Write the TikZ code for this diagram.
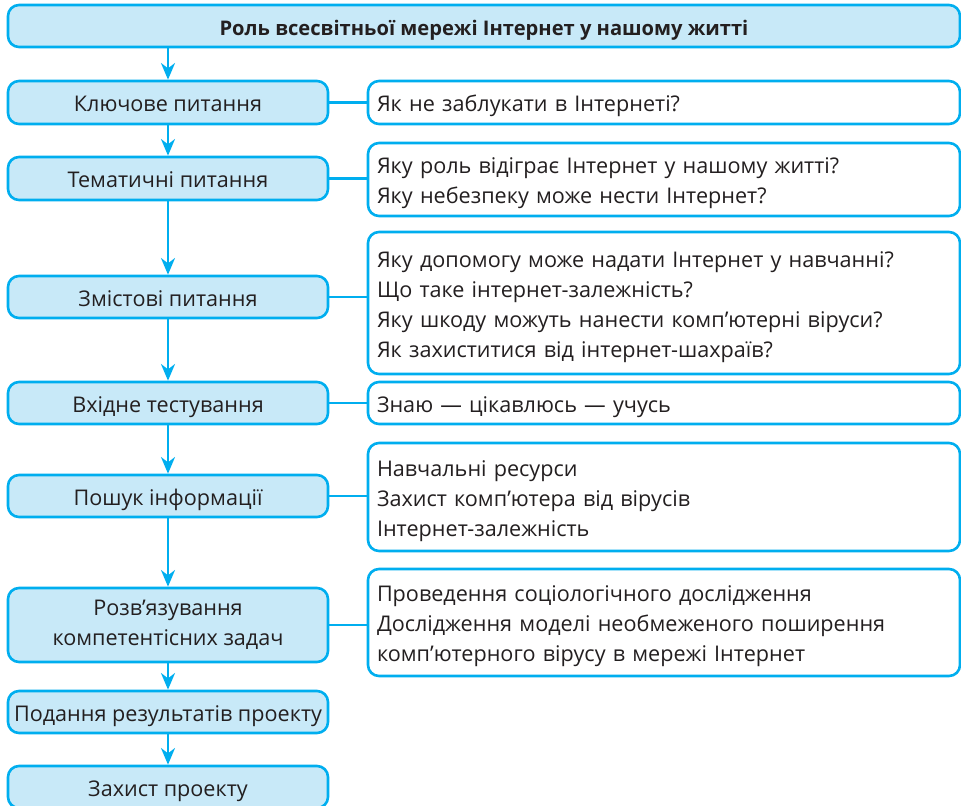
\documentclass[tikz,border=0pt]{standalone}
\usepackage{fontspec}
\setmainfont{Open Sans}
\usetikzlibrary{arrows.meta}
\newdimen\pxu \pxu=0.75pt
\definecolor{cyanline}{HTML}{00AEEF}
\definecolor{cyanfill}{HTML}{C8E9F8}
\definecolor{txt}{HTML}{231F20}
\tikzset{
  base/.style={draw=cyanline, line width=2.6\pxu, rounded corners=11\pxu, text=txt,
    font=\fontsize{16.2pt}{22.5pt}\selectfont, inner sep=0pt,
    execute at begin node={\rule{0pt}{18pt}},
    execute at end node={\rule[-3.8pt]{0pt}{0pt}}},
  lbox/.style={base, fill=cyanfill, minimum width=320\pxu, align=center},
  rbox/.style={base, fill=white, minimum width=592\pxu, text width=574\pxu, align=left},
  flow/.style={draw=cyanline, line width=2.6\pxu, -{Stealth[length=12.5pt, width=10.5pt, inset=4pt]}},
  link/.style={draw=cyanline, line width=2.6\pxu}
}
\begin{document}
\begin{tikzpicture}[x=\pxu, y=-\pxu]
\useasboundingbox (0,0) rectangle (961,806);
\node[base, fill=cyanfill, minimum width=952\pxu, minimum height=42\pxu, font=\fontsize{15.1pt}{22.5pt}\selectfont\bfseries] (title) at (484,26) {Роль всесвітньої мережі Інтернет у нашому житті};

\node[lbox, minimum height=43\pxu] (l1) at (168,102.5) {Ключове питання};
\node[lbox, minimum height=43\pxu] (l2) at (168,178.5) {Тематичні питання};
\node[lbox, minimum height=42\pxu] (l3) at (168,297) {Змістові питання};
\node[lbox, minimum height=42\pxu] (l4) at (168,403) {Вхідне тестування};
\node[lbox, minimum height=42\pxu] (l5) at (168,496) {Пошук інформації};
\node[lbox, minimum height=74\pxu] (l6) at (168,625) {Розв’язування\\компетентісних задач};
\node[lbox, minimum height=42\pxu] (l7) at (168,712) {Подання результатів проекту};
\node[lbox, minimum height=42\pxu] (l8) at (168,787) {Захист проекту};

\node[rbox, minimum height=43\pxu] (r1) at (664,102.5) {Як не заблукати в Інтернеті?};
\node[rbox, minimum height=73\pxu] (r2) at (664,179.5) {Яку роль відіграє Інтернет у нашому житті?\\Яку небезпеку може нести Інтернет?};
\node[rbox, minimum height=142\pxu] (r3) at (664,303) {Яку допомогу може надати Інтернет у навчанні?\\Що таке інтернет-залежність?\\Яку шкоду можуть нанести комп’ютерні віруси?\\Як захиститися від інтернет-шахраїв?};
\node[rbox, minimum height=42\pxu] (r4) at (664,403) {Знаю — цікавлюсь — учусь};
\node[rbox, minimum height=108\pxu] (r5) at (664,497) {Навчальні ресурси\\Захист комп’ютера від вірусів\\Інтернет-залежність};
\node[rbox, minimum height=107\pxu] (r6) at (664,622.5) {Проведення соціологічного дослідження\\Дослідження моделі необмеженого поширення\\комп’ютерного вірусу в мережі Інтернет};

\draw[flow] (title.south -| l1.north) -- (l1.north);
\draw[flow] (l1) -- (l2);
\draw[flow] (l2) -- (l3);
\draw[flow] (l3) -- (l4);
\draw[flow] (l4) -- (l5);
\draw[flow] (l5) -- (l6);
\draw[flow] (l6) -- (l7);
\draw[flow] (l7) -- (l8);

\draw[link] (l1.east) -- (l1.east -| r1.west);
\draw[link] (l2.east) -- (l2.east -| r2.west);
\draw[link] (l3.east) -- (l3.east -| r3.west);
\draw[link] (l4.east) -- (l4.east -| r4.west);
\draw[link] (l5.east) -- (l5.east -| r5.west);
\draw[link] (l6.east) -- (l6.east -| r6.west);
\end{tikzpicture}
\end{document}
